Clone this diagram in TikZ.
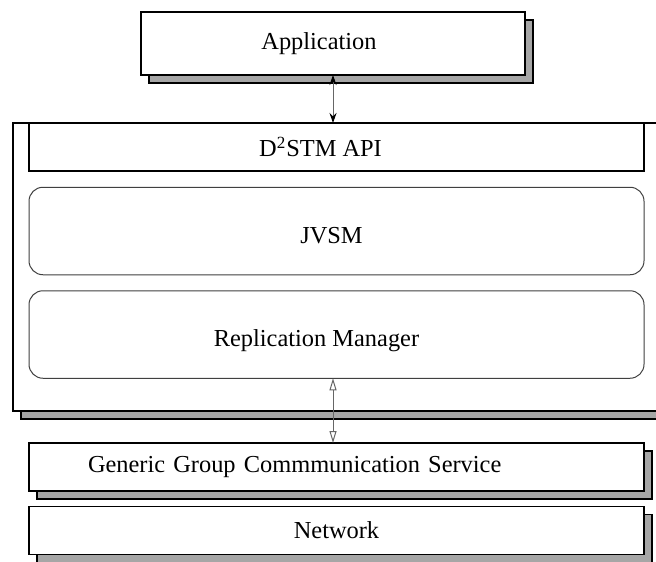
\documentclass[tikz,border=0pt]{standalone}
\usepackage{fontspec}
\setmainfont{Liberation Serif}
\usetikzlibrary{positioning,shadows,arrows.meta}
\tikzset{
  layer/.style={draw=black,line width=0.75pt,fill=white,inner sep=0pt,outer sep=0pt,
    minimum width=307.5pt,minimum height=24pt},
  shadowed/.style={drop shadow={shadow xshift=4pt,shadow yshift=-4pt,
    fill=black!35,draw=black,line width=0.75pt,opacity=1}},
  module/.style={draw=black!75,line width=0.5pt,rounded corners=7pt,fill=white,
    inner sep=0pt,outer sep=0pt,minimum width=307.5pt,minimum height=43.75pt,
    text height=12.4pt,text depth=0pt}
}
\begin{document}
\begin{tikzpicture}[x=0.5pt,y=-0.5pt,font=\fontsize{12.2}{14}\selectfont]
  \clip (0,0) rectangle (656,561);
  % application on top
  \node[layer,shadowed,minimum width=192pt,minimum height=31.5pt] (app) at (333,43.5) {Application\kern14pt};
  % the D2STM stack
  \node[layer,shadowed,minimum width=343.5pt,minimum height=144pt] (stack) at (356.5,267) {};
  \node[layer] (api) at (336.5,147) {D\textsuperscript{2}STM API\kern16pt};
  \node[module] (jvsm) at (336.5,231) {JVSM\kern5pt};
  \node[module] (repl) at (336.5,334.5) {Replication Manager\kern20pt};
  % lower layers
  \node[layer,shadowed,inner xsep=29.5pt,text width=248.5pt,align=left] (gcs) at (336.5,467) {Generic Group Commmunication Service};
  \node[layer,shadowed] (net) at (336.5,530.5) {Network};
  % connectors
  \draw[black!60,line width=0.5pt,{Stealth[black,length=5pt,width=3.5pt]}-{Stealth[black,length=5pt,width=3.5pt]}]
    (app.south) -- (app.south |- stack.north);
  \draw[black!60,line width=0.5pt,{Triangle[open,length=6pt,width=3.5pt]}-{Triangle[open,length=6pt,width=3.5pt]}]
    (app.south |- repl.south) -- (app.south |- gcs.north);
\end{tikzpicture}
\end{document}
